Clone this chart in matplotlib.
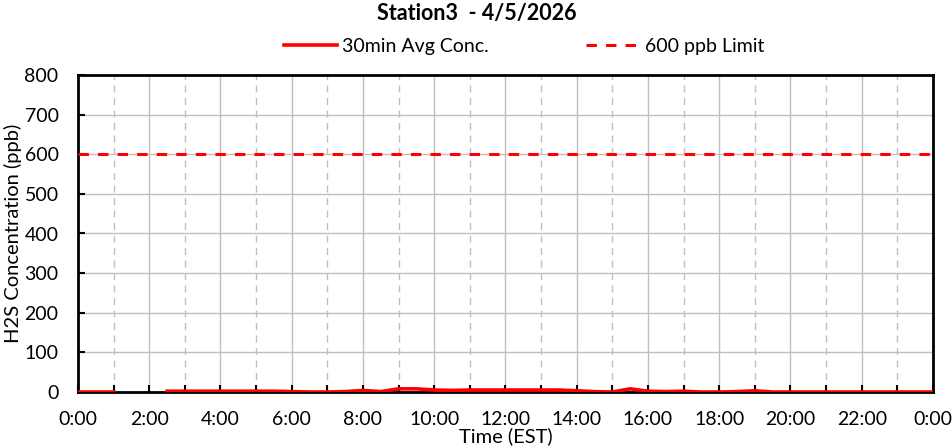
import numpy as np
import matplotlib
matplotlib.use("Agg")
import matplotlib.pyplot as plt

# 30 min averages, ppb (NaN = no data)
hours = np.arange(0, 24.01, 0.5)
conc = [0, 0, 0, np.nan, np.nan,
        2, 2, 2, 2, 2, 2, 2,          # 2:30 - 5:30
        1, 0, 0, 1, 4, 1, 8, 8,       # 6:00 - 9:30
        5, 4, 5, 5, 5, 5, 5, 5,       # 10:00 - 13:30
        3, 1, 0, 8, 2, 1, 2, 0,       # 14:00 - 17:30
        0, 1, 3, 0, 0, 0, 0, 0,       # 18:00 - 21:30
        0, 0, 0, 0, 0]                # 22:00 - 24:00
limit = 600
tick_hours = list(range(0, 25, 2))
tick_labels = [f"{h % 24}:00" for h in tick_hours]

plt.rcParams['font.family'] = ['Lato', 'DejaVu Sans']

fig = plt.figure(figsize=(9.53, 4.48), dpi=100)
ax = fig.add_axes([78/953, 1 - 392/448, 855/953, 317/448])

ax.plot(hours, conc, color='black', lw=1.2, zorder=3)
ax.plot(hours, conc, color='#FF0000', lw=2.6, label='30min Avg Conc.', zorder=4)
ax.axhline(limit, color='#FF0000', lw=2.2, ls=(0, (3.4, 3.0)), label='600 ppb Limit', zorder=4)

ax.set_xlim(0, 24)
ax.set_ylim(0, 800)
ax.set_xticks(tick_hours)
ax.set_xticklabels(tick_labels)
ax.set_xticks(range(1, 24, 2), minor=True)
ax.set_yticks(range(0, 801, 100))

ax.grid(which='major', color='#BFBFBF', lw=1.0)
ax.grid(which='minor', axis='x', color='#BFBFBF', lw=1.0, ls=(0, (5, 4)))
ax.set_axisbelow(True)

ax.tick_params(which='both', direction='in', length=5, width=1.5, labelsize=14)
ax.tick_params(axis='x', which='major', pad=14)
ax.tick_params(axis='y', which='major', pad=14)
for s in ax.spines.values():
    s.set_linewidth(2)
    s.set_color('black')

ax.set_xlabel("Time (EST)", fontsize=14.5, labelpad=-1)
ax.set_ylabel("H2S Concentration (ppb)", fontsize=14.5)
ax.yaxis.set_label_coords(-0.066, 0.5)
fig.suptitle("Station3  - 4/5/2026", fontsize=15.5, fontweight='bold', y=0.993)

fig.legend(loc='upper center', bbox_to_anchor=(0.55, 0.955), ncol=2, frameon=False,
           fontsize=14, handlelength=2.7, columnspacing=5.0, handletextpad=0.3)

fig.savefig("out.png", dpi=100)
